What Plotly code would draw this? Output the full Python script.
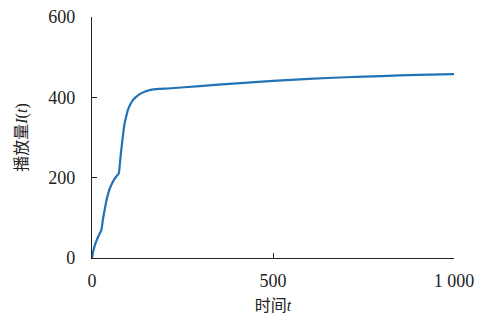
import plotly.graph_objects as go

t_vals = [0, 3, 7, 12, 17, 22, 26, 30, 35, 40, 45, 49, 56, 63, 69, 74, 76, 78, 81, 84, 87, 90, 95, 99, 106, 113, 122, 132, 145, 159, 185, 210, 298, 400, 500, 600, 700, 800, 900, 1000]
I_vals = [0, 15, 29, 42, 53, 62, 70, 95, 120, 144, 161, 173, 187, 198, 205, 211, 225, 244, 270, 294, 316, 335, 354, 368, 383, 393, 401, 408, 414, 418, 421, 422, 428, 435, 441, 446, 450, 453, 456, 458]

x_ticks = [0, 500, 1000]
x_labels = ["0", "500", "1 000"]
y_ticks = [0, 200, 400, 600]
y_labels = ["0", "200", "400", "600"]

font_fam = "Liberation Serif, Noto Sans CJK SC, serif"

fig = go.Figure()
fig.add_trace(go.Scatter(x=t_vals, y=I_vals, mode="lines", line_shape="spline",
                         line=dict(color="#2272b4", width=2.2, smoothing=0.6)))

fig.update_layout(
    width=481, height=320,
    margin=dict(l=92, r=27, t=17, b=62),
    paper_bgcolor="white", plot_bgcolor="white",
    showlegend=False,
    font=dict(family=font_fam, size=18, color="#222"),
)
fig.update_xaxes(range=[0, 1000], tickvals=x_ticks, ticktext=x_labels, automargin=False,
                 showgrid=False, zeroline=False, showline=True, linecolor="#222", linewidth=1.2,
                 ticks="inside", ticklen=5, tickcolor="#222", ticklabelstandoff=6,
                 tickfont=dict(size=18),
                 title=dict(text="时间<i>t</i>", standoff=10, font=dict(size=16)))
fig.update_yaxes(range=[0, 600], tickvals=y_ticks, ticktext=y_labels, automargin=False,
                 showgrid=False, zeroline=False, showline=True, linecolor="#222", linewidth=1.2,
                 ticks="inside", ticklen=5, tickcolor="#222", ticklabelstandoff=12,
                 tickfont=dict(size=18),
                 title=dict(text="播放量<i>I</i>(<i>t</i>)", standoff=16, font=dict(size=16)))

fig.write_html("out.html")
